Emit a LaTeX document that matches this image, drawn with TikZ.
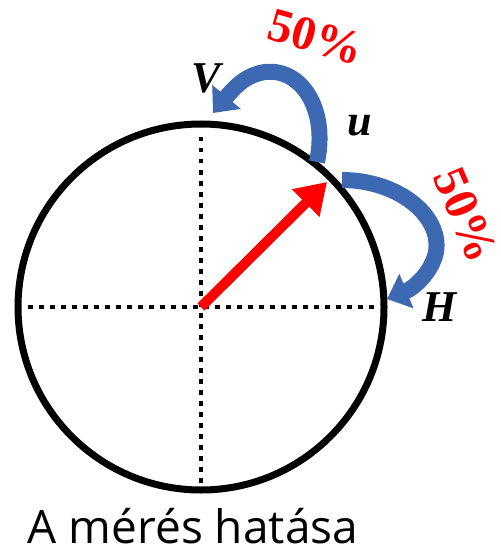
\documentclass[tikz,border=0pt]{standalone}
\usepackage{fontspec}
\setmainfont{Liberation Serif}
\newfontfamily\capfont{Open Sans}
\usepackage{xcolor}
\usetikzlibrary{arrows.meta,calc}
\definecolor{polblue}{HTML}{3D68B2}
\tikzset{
    % betuk
    lbl/.style={font=\fontsize{44}{44}\selectfont\bfseries\itshape, inner sep=0pt},
    pct/.style={font=\fontsize{48}{48}\selectfont\bfseries, text=red, inner sep=0pt},
    % pontozott tengely
    axisdots/.style={line width=4.5pt, dash pattern=on 4.5pt off 6.5pt},
    % gorbe nyilak
    bend arrow/.style={polblue, line width=16pt, -{Triangle[length=21pt,width=36pt]}},
}
\begin{document}
\begin{tikzpicture}[x=1pt, y=-1pt]
    \useasboundingbox (0,0) rectangle (500,548);
    % kor es tengelyek
    \coordinate (O) at (201,307);
    \def\R{183}
    \draw[line width=7pt] (O) circle[radius=\R];
    \draw[axisdots] ($(O)+(-173,0)$) -- ($(O)+(178,0)$);
    \draw[axisdots] ($(O)+(0,-170)$) -- ($(O)+(0,180)$);
    % allapotvektor
    \coordinate (utip) at (327,182);
    \draw[red, line width=10pt, -{Triangle[length=30pt,width=37pt]}] (O) -- (utip);
    % feliratok
    \node[lbl] (V) at (206,78) {V};
    \node[lbl] (u) at (360,126) {u};
    \node[lbl] (H) at (440,307) {H};
    \node[pct, rotate=-16] (pv) at (316,37) {50\%};
    \node[pct, rotate=-67] (ph) at (466,215) {50\%};
    % meres
    \coordinate (sv) at (317,162);
    \coordinate (tv) at (213,113);
    \coordinate (sh) at (342,180);
    \coordinate (th) at (387,299);
    \draw[bend arrow] (sv) .. controls (328,110) and (302,68) .. (265,72)
        .. controls (245,75) and (234,88) .. (tv);
    \draw[bend arrow] (sh) .. controls (397,180) and (442,215) .. (436,252)
        .. controls (432,272) and (414,288) .. (th);
    \node[font=\capfont\fontsize{46}{46}\selectfont, anchor=base, inner sep=0pt] (cap) at (193,543) {A mérés hatása};
\end{tikzpicture}
\end{document}
